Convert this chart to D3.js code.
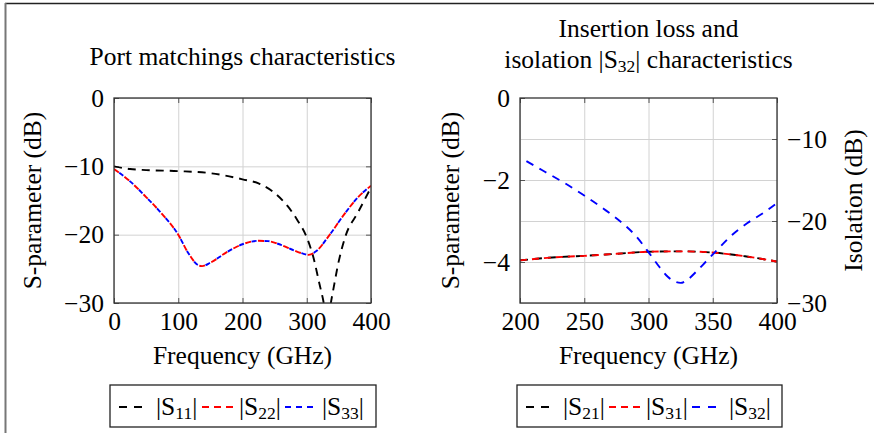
<!DOCTYPE html>
<html>
<head>
<meta charset="utf-8">
<script src="https://cdn.jsdelivr.net/npm/d3@7"></script>
<style>
  body { margin: 0; background: #fff; }
  text { font-family: "Liberation Serif", serif; fill: #000; }
</style>
</head>
<body>
<div id="chart"></div>
<script>
var width = 874,
    height = 433,
    fontSize = 25.5,
    subSize = 17.5;

// left panel: port matchings
var freqS11 = [0, 25, 50, 100, 150, 200, 225, 250, 270, 285, 300, 310, 320, 325, 332, 339, 350, 360, 380, 400];
var s11 =     [-10.0, -10.4, -10.55, -10.7, -11.0, -11.9, -12.5, -13.9, -15.8, -17.8, -20.4, -23.2, -27.3, -29.3, -32.5, -29.2, -23.8, -20.3, -16.7, -13.1];
var freqS22 = [0, 25, 50, 75, 100, 115, 130, 137, 150, 175, 200, 225, 240, 260, 280, 295, 303, 315, 335, 360, 380, 400];
var s22 =     [-10.4, -12.2, -14.5, -17.0, -20.0, -22.6, -24.4, -24.6, -24.1, -22.6, -21.4, -20.9, -20.95, -21.5, -22.3, -22.8, -22.95, -22.4, -20.1, -16.8, -14.5, -12.85];
var s33 =     [-10.4, -12.2, -14.5, -17.0, -20.0, -22.6, -24.4, -24.6, -24.1, -22.6, -21.4, -20.9, -20.95, -21.5, -22.3, -22.8, -22.95, -22.4, -20.1, -16.8, -14.5, -12.85];

// right panel: insertion loss and isolation
var freqS21 = [200, 225, 250, 275, 300, 325, 350, 375, 400];
var s21 =     [-3.96, -3.89, -3.85, -3.80, -3.75, -3.74, -3.77, -3.86, -3.99];
var s31 =     [-3.96, -3.89, -3.85, -3.80, -3.75, -3.74, -3.77, -3.86, -3.99];
var freqS32 = [205, 220, 235, 250, 265, 280, 290, 300, 307, 315, 320, 325, 330, 337, 345, 353, 365, 377, 390, 400];
var s32 =     [-12.7, -14.05, -15.4, -16.9, -18.5, -20.3, -21.8, -23.8, -25.3, -26.8, -27.35, -27.55, -27.2, -26.2, -24.9, -23.6, -21.7, -20.25, -18.95, -17.8];

// ticks
var xTicksA = [0, 100, 200, 300, 400],
    yTicksA = [0, -10, -20, -30],
    xTicksB = [200, 250, 300, 350, 400],
    yTicksB = [0, -2, -4],
    yGridB = [-1, -2, -3, -4],
    y2TicksB = [-10, -20, -30];

var legendA = [
  {sub: "11", color: "#000", dash: "8,7", len: 26},
  {sub: "22", color: "#f00", dash: "7,5", len: 31},
  {sub: "33", color: "#00f", dash: "6,5", len: 31}
];
var legendB = [
  {sub: "21", color: "#000", dash: "8,7", len: 26},
  {sub: "31", color: "#f00", dash: "7,5", len: 31},
  {sub: "32", color: "#00f", dash: "8,8", len: 26}
];

var svg = d3.select("#chart").append("svg")
    .attr("width", width)
    .attr("height", height);

// page frame
svg.append("line").attr("x1", 5).attr("x2", width).attr("y1", 3.5).attr("y2", 3.5)
    .attr("stroke", "#222").attr("stroke-width", 1.3);
svg.append("line").attr("x1", 5.5).attr("x2", 5.5).attr("y1", 3).attr("y2", height)
    .attr("stroke", "#777").attr("stroke-width", 2);

// writes "|S<sub>xx</sub>|" into a text element
var sLabel = function(t, sub, prefix, suffix) {
  t.append("tspan").text((prefix || "") + "|S");
  t.append("tspan").attr("font-size", subSize).attr("dy", 4).text(sub);
  t.append("tspan").attr("dy", -4).text("|" + (suffix || ""));
};

var styleAxis = function(g) {
  g.attr("font-family", null).attr("font-size", null);
  g.select(".domain").remove();
  g.selectAll("text").attr("font-size", fontSize);
};

var fmt = d3.format("d");

var drawPanel = function(p) {
  var x = d3.scaleLinear().domain(p.xDomain).range([p.left, p.right]);
  var y = d3.scaleLinear().domain(p.yDomain).range([p.bottom, p.top]);
  var h = p.bottom - p.top, w = p.right - p.left;

  var g = svg.append("g");

  // grid
  g.append("g").attr("transform", "translate(0," + p.bottom + ")")
    .call(d3.axisBottom(x).tickValues(p.xTicks).tickSize(-h).tickFormat(""))
    .call(function(a) { a.select(".domain").remove(); a.selectAll("line").attr("stroke", "#d2d2d2"); });
  g.append("g").attr("transform", "translate(" + p.left + ",0)")
    .call(d3.axisLeft(y).tickValues(p.yGrid).tickSize(-w).tickFormat(""))
    .call(function(a) { a.select(".domain").remove(); a.selectAll("line").attr("stroke", "#d2d2d2"); });
  if (p.y2) {
    g.append("g").attr("transform", "translate(" + p.left + ",0)")
      .call(d3.axisLeft(p.y2.scale).tickValues(p.y2.ticks).tickSize(-w).tickFormat(""))
      .call(function(a) { a.select(".domain").remove(); a.selectAll("line").attr("stroke", "#d2d2d2"); });
  }

  // inner tick marks
  var tickCol = "#555";
  g.append("g").attr("transform", "translate(0," + p.bottom + ")")
    .call(d3.axisBottom(x).tickValues(p.xTicks).tickSize(-5).tickFormat(""))
    .call(function(a) { a.select(".domain").remove(); a.selectAll("line").attr("stroke", tickCol); });
  g.append("g").attr("transform", "translate(0," + p.top + ")")
    .call(d3.axisTop(x).tickValues(p.xTicks).tickSize(-5).tickFormat(""))
    .call(function(a) { a.select(".domain").remove(); a.selectAll("line").attr("stroke", tickCol); });
  g.append("g").attr("transform", "translate(" + p.left + ",0)")
    .call(d3.axisLeft(y).tickValues(p.yTicks).tickSize(-5).tickFormat(""))
    .call(function(a) { a.select(".domain").remove(); a.selectAll("line").attr("stroke", tickCol); });
  if (p.y2) {
    g.append("g").attr("transform", "translate(" + p.right + ",0)")
      .call(d3.axisRight(p.y2.scale).tickValues(p.y2.ticks).tickSize(-5).tickFormat(""))
      .call(function(a) { a.select(".domain").remove(); a.selectAll("line").attr("stroke", tickCol); });
  } else {
    g.append("g").attr("transform", "translate(" + p.right + ",0)")
      .call(d3.axisRight(y).tickValues(p.yTicks).tickSize(-5).tickFormat(""))
      .call(function(a) { a.select(".domain").remove(); a.selectAll("line").attr("stroke", tickCol); });
  }

  // tick labels
  g.append("g").attr("transform", "translate(0," + p.bottom + ")")
    .call(d3.axisBottom(x).tickValues(p.xTicks).tickSize(0).tickPadding(9).tickFormat(fmt))
    .call(styleAxis);
  g.append("g").attr("transform", "translate(" + p.left + ",0)")
    .call(d3.axisLeft(y).tickValues(p.yTicks).tickSize(0).tickPadding(10).tickFormat(fmt))
    .call(styleAxis);
  if (p.y2) {
    g.append("g").attr("transform", "translate(" + p.right + ",0)")
      .call(d3.axisRight(p.y2.scale).tickValues(p.y2.ticks).tickSize(0).tickPadding(10).tickFormat(fmt))
      .call(styleAxis);
  }

  // curves
  var clipId = "clip" + p.id;
  svg.append("clipPath").attr("id", clipId).append("rect")
    .attr("x", p.left).attr("y", p.top).attr("width", w).attr("height", h);

  var lines = g.append("g").attr("clip-path", "url(#" + clipId + ")");
  p.series.forEach(function(s) {
    var ys = s.scale || y;
    var line = d3.line()
      .x(function(d, i) { return x(s.freq[i]); })
      .y(function(d) { return ys(d); })
      .curve(d3.curveMonotoneX);
    lines.append("path")
      .attr("d", line(s.values))
      .attr("fill", "none")
      .attr("stroke", s.color)
      .attr("stroke-width", 1.9)
      .attr("stroke-dasharray", s.dash)
      .attr("stroke-dashoffset", s.offset || 0);
  });

  // axis box
  g.append("rect").attr("x", p.left).attr("y", p.top).attr("width", w).attr("height", h)
    .attr("fill", "none").attr("stroke", "#333").attr("stroke-width", 1.3);

  // titles
  var cx = (p.left + p.right) / 2;
  p.title(g, cx);
  g.append("text").attr("x", cx).attr("y", 364).attr("text-anchor", "middle")
    .attr("font-size", fontSize).text("Frequency (GHz)");
  g.append("text").attr("transform", "translate(" + p.yLabelX + "," + (p.top + h / 2) + ") rotate(-90)")
    .attr("text-anchor", "middle").attr("font-size", fontSize).text("S-parameter (dB)");
  if (p.y2) {
    g.append("text").attr("transform", "translate(" + p.y2.labelX + "," + (p.top + h / 2) + ") rotate(-90)")
      .attr("text-anchor", "middle").attr("font-size", fontSize).text("Isolation (dB)");
  }

  // legend
  var lg = g.append("g");
  lg.append("rect").attr("x", p.legend.x).attr("y", 385).attr("width", p.legend.w).attr("height", 42)
    .attr("fill", "#fff").attr("stroke", "#222").attr("stroke-width", 1.3);
  p.legend.items.forEach(function(it, i) {
    var sx = p.legend.x + 9 + i * 83;
    lg.append("line").attr("x1", sx).attr("x2", sx + it.len).attr("y1", 407).attr("y2", 407)
      .attr("stroke", it.color).attr("stroke-width", 1.9).attr("stroke-dasharray", it.dash);
    var t = lg.append("text").attr("x", sx + 37).attr("y", 415).attr("font-size", fontSize);
    sLabel(t, it.sub);
  });
};

drawPanel({
  id: "A", left: 114, right: 371, top: 98, bottom: 303,
  xDomain: [0, 400], yDomain: [-30, 0],
  xTicks: xTicksA, yTicks: yTicksA, yGrid: yTicksA,
  yLabelX: 41,
  series: [
    {freq: freqS11, values: s11, color: "#000", dash: "8,6"},
    {freq: freqS22, values: s22, color: "#f00", dash: "6,7"},
    {freq: freqS22, values: s33, color: "#00f", dash: "5,8", offset: -6.5}
  ],
  title: function(g, cx) {
    g.append("text").attr("x", cx).attr("y", 65).attr("text-anchor", "middle")
      .attr("font-size", fontSize).text("Port matchings characteristics");
  },
  legend: {x: 110, w: 266, items: legendA}
});

var y2 = d3.scaleLinear().domain([-30, -5]).range([303, 98]);

drawPanel({
  id: "B", left: 520, right: 777, top: 98, bottom: 303,
  xDomain: [200, 400], yDomain: [-5, 0],
  xTicks: xTicksB, yTicks: yTicksB, yGrid: yGridB,
  yLabelX: 459,
  y2: {scale: y2, ticks: y2TicksB, labelX: 862},
  series: [
    {freq: freqS21, values: s21, color: "#000", dash: "8,6"},
    {freq: freqS21, values: s31, color: "#f00", dash: "7,5"},
    {freq: freqS32, values: s32, color: "#00f", dash: "8,7", scale: y2}
  ],
  title: function(g, cx) {
    g.append("text").attr("x", cx).attr("y", 37).attr("text-anchor", "middle")
      .attr("font-size", fontSize).text("Insertion loss and");
    var t = g.append("text").attr("x", cx).attr("y", 68).attr("text-anchor", "middle")
      .attr("font-size", fontSize);
    sLabel(t, "32", "isolation ", " characteristics");
  },
  legend: {x: 517, w: 265, items: legendB}
});
</script>
</body>
</html>
